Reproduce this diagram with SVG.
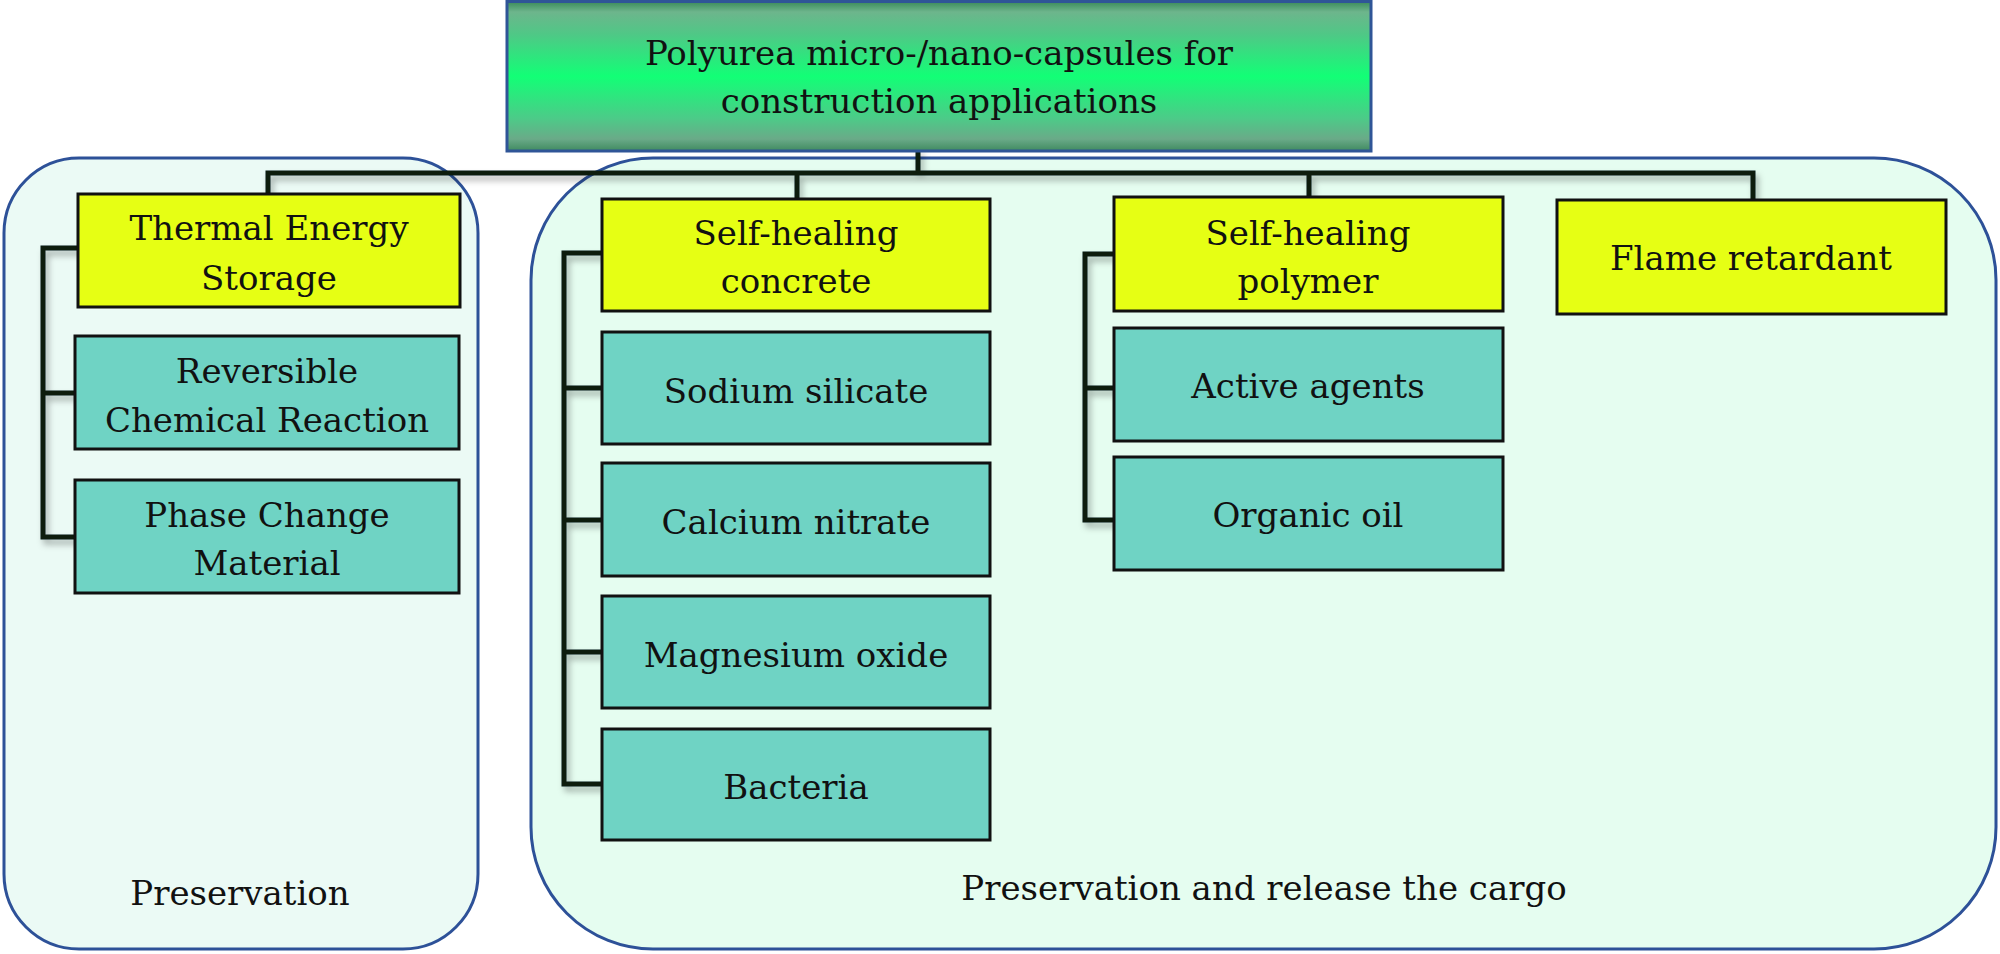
<svg xmlns="http://www.w3.org/2000/svg" width="2000" height="954" viewBox="0 0 2000 954">
<defs>
<linearGradient id="gTop" x1="0" y1="0" x2="0" y2="1">
<stop offset="0" stop-color="#3a8a5a"/>
<stop offset="0.07" stop-color="#6db58c"/>
<stop offset="0.22" stop-color="#4fc886"/>
<stop offset="0.5" stop-color="#12ff76"/>
<stop offset="0.78" stop-color="#4ccb88"/>
<stop offset="0.92" stop-color="#6aaa88"/>
<stop offset="1" stop-color="#3f8a60"/>
</linearGradient>
<filter id="sh" x="-5%" y="-20%" width="110%" height="140%">
<feDropShadow dx="3" dy="5" stdDeviation="3" flood-color="#000" flood-opacity="0.3"/>
</filter>
</defs>
<style>
.cont{stroke:#2d5198;stroke-width:3}
.yel{fill:#e6ff14;stroke:#111;stroke-width:3}
.teal{fill:#6fd3c4;stroke:#111;stroke-width:3}
.ln{stroke:#0d1a10;stroke-width:5;fill:none;stroke-linecap:square}
text{font-family:"DejaVu Serif","Liberation Serif",serif;font-size:34px;fill:#111;text-anchor:middle}
</style>
<rect width="2000" height="954" fill="#ffffff"/>
<g id="container-left">
<rect class="cont" x="4" y="158" width="474" height="791" rx="75" ry="75" fill="#ebfaf5"/>
<text x="240" y="905">Preservation</text>
</g>
<g id="container-right">
<rect class="cont" x="531" y="158" width="1465" height="791" rx="122" ry="122" fill="#e5fdf0"/>
<text x="1264" y="900">Preservation and release the cargo</text>
</g>
<g id="connectors" filter="url(#sh)">
<path class="ln" d="M918 151 V173 M268 194 V173 H1753 V200 M797 173 V199 M1309 173 V197"/>
<path class="ln" d="M78 248 H43 V537 H78 M43 393 H76"/>
<path class="ln" d="M602 253 H564 V784 H602 M564 388 H602 M564 520 H602 M564 652 H602"/>
<path class="ln" d="M1114 254 H1085 V520 H1114 M1085 388 H1114"/>
</g>
<g id="root">
<rect x="507" y="1.5" width="864" height="149.5" fill="url(#gTop)" stroke="#2f5597" stroke-width="3"/>
<text x="939" y="65">Polyurea micro-/nano-capsules for</text>
<text x="939" y="113">construction applications</text>
</g>
<g id="thermal">
<rect class="yel" x="78" y="194" width="382" height="113"/>
<text x="269" y="240">Thermal Energy</text>
<text x="269" y="290">Storage</text>
</g>
<g id="reversible">
<rect class="teal" x="75" y="336" width="384" height="113"/>
<text x="267" y="383">Reversible</text>
<text x="267" y="432">Chemical Reaction</text>
</g>
<g id="phase">
<rect class="teal" x="75" y="480" width="384" height="113"/>
<text x="267" y="527">Phase Change</text>
<text x="267" y="575">Material</text>
</g>
<g id="concrete">
<rect class="yel" x="602" y="199" width="388" height="112"/>
<text x="796" y="245">Self-healing</text>
<text x="796" y="293">concrete</text>
</g>
<g id="sodium">
<rect class="teal" x="602" y="332" width="388" height="112"/>
<text x="796" y="403">Sodium silicate</text>
</g>
<g id="calcium">
<rect class="teal" x="602" y="463" width="388" height="113"/>
<text x="796" y="534">Calcium nitrate</text>
</g>
<g id="magnesium">
<rect class="teal" x="602" y="596" width="388" height="112"/>
<text x="796" y="667">Magnesium oxide</text>
</g>
<g id="bacteria">
<rect class="teal" x="602" y="729" width="388" height="111"/>
<text x="796" y="799">Bacteria</text>
</g>
<g id="polymer">
<rect class="yel" x="1114" y="197" width="389" height="114"/>
<text x="1308" y="245">Self-healing</text>
<text x="1308" y="293">polymer</text>
</g>
<g id="active">
<rect class="teal" x="1114" y="328" width="389" height="113"/>
<text x="1308" y="398">Active agents</text>
</g>
<g id="organic">
<rect class="teal" x="1114" y="457" width="389" height="113"/>
<text x="1308" y="527">Organic oil</text>
</g>
<g id="flame">
<rect class="yel" x="1557" y="200" width="389" height="114"/>
<text x="1751" y="270">Flame retardant</text>
</g>
</svg>
